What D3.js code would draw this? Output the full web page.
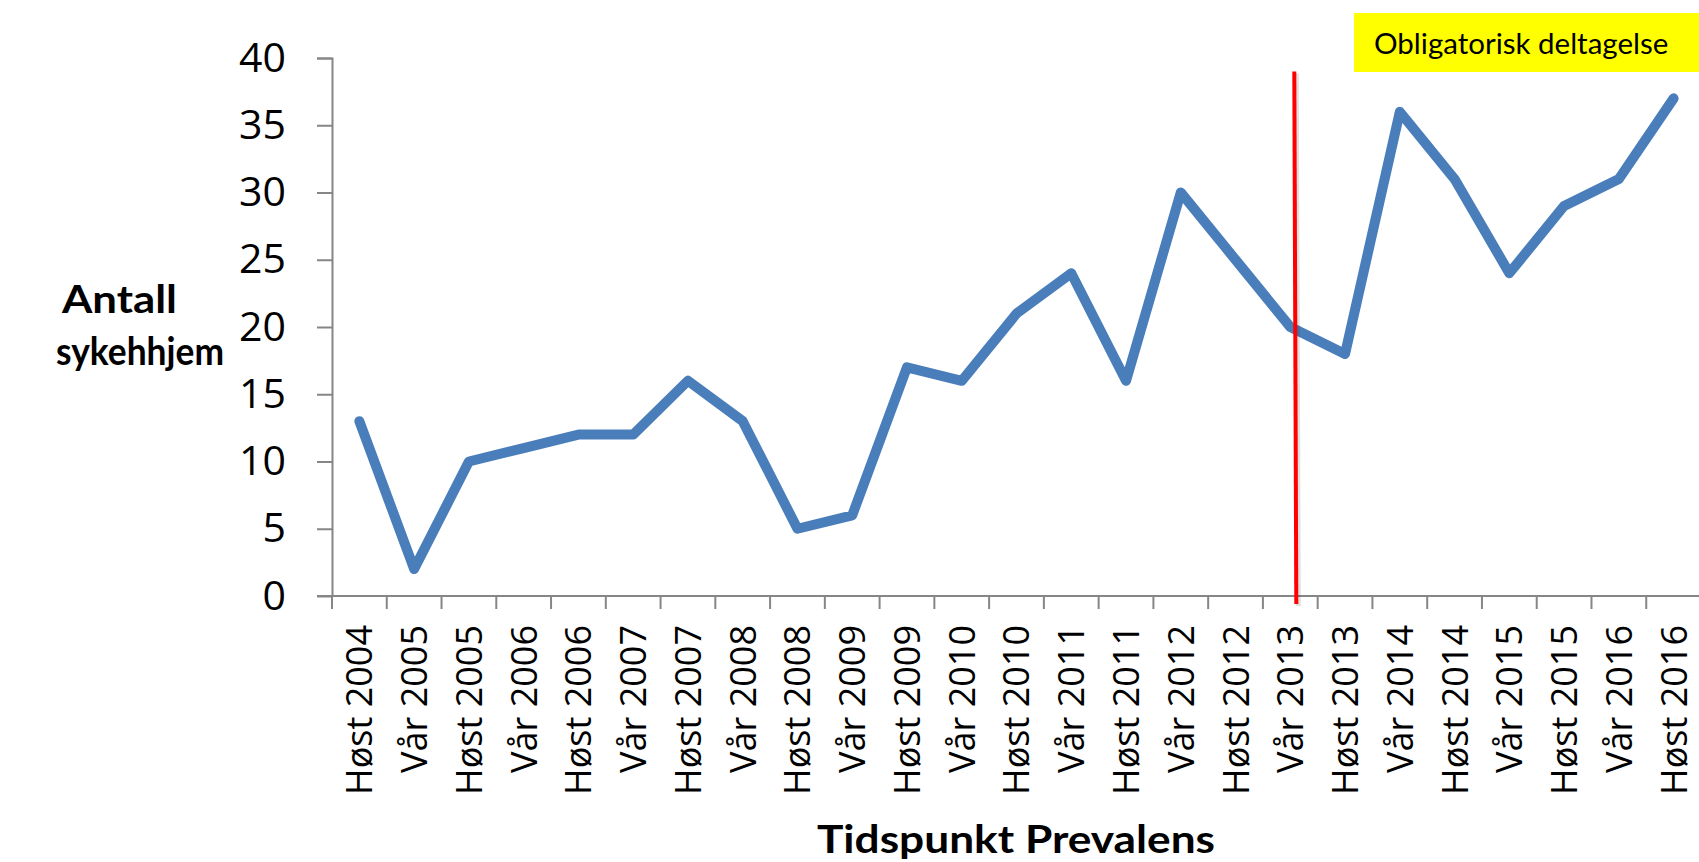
<!DOCTYPE html>
<html>
<head>
<meta charset="utf-8">
<script src="https://cdn.jsdelivr.net/npm/d3@7"></script>
<style>
  html, body { margin: 0; padding: 0; background: #fff; overflow: hidden; }
  svg { display: block; }
</style>
</head>
<body>
<div id="chart"></div>
<script>
// Categories along the x axis (survey rounds)
const periods = [
    "Høst 2004", "Vår 2005", "Høst 2005", "Vår 2006", "Høst 2006",
    "Vår 2007", "Høst 2007", "Vår 2008", "Høst 2008", "Vår 2009",
    "Høst 2009", "Vår 2010", "Høst 2010", "Vår 2011", "Høst 2011",
    "Vår 2012", "Høst 2012", "Vår 2013", "Høst 2013", "Vår 2014",
    "Høst 2014", "Vår 2015", "Høst 2015", "Vår 2016", "Høst 2016"
];

// Number of nursing homes for each period
const antall = [13, 2, 10, 11, 12, 12, 16, 13, 5, 6, 17, 16, 21, 24, 16, 30, 25, 20, 18, 36, 31, 24, 29, 31, 37];

// Tick values for the y axis
const yTicks = [0, 5, 10, 15, 20, 25, 30, 35, 40];

// Where mandatory participation starts and the note text
const markerPeriod = "Vår 2013";
const noteText = "Obligatorisk deltagelse";

const width = 1699;
const height = 862;
const margin = { top: 58, right: -2, bottom: 266, left: 332 };
const innerWidth = width - margin.left - margin.right;
const innerHeight = height - margin.top - margin.bottom;

const svg = d3.select("#chart").append("svg")
    .attr("width", width)
    .attr("height", height)
    .style("font-family", "'Open Sans', sans-serif");

const g = svg.append("g")
    .attr("transform", `translate(${margin.left},${margin.top})`);

// Scales
const x = d3.scaleBand()
    .domain(periods)
    .range([0, innerWidth])
    .padding(0);

const y = d3.scaleLinear()
    .domain([0, 40])
    .range([innerHeight, 0]);

const axisColor = "#868686";

// Y axis
const yAxis = g.append("g")
    .call(d3.axisLeft(y).tickValues(yTicks).tickSize(15).tickPadding(31));
yAxis.select(".domain").attr("stroke", axisColor).attr("stroke-width", 2)
    .attr("d", `M-15,0.5H0.5V${innerHeight}`);
yAxis.selectAll(".tick line").attr("stroke", axisColor).attr("stroke-width", 2);
yAxis.selectAll(".tick text")
    .attr("fill", "#000")
    .style("font-size", "41px")
    .style("font-family", "'Open Sans', sans-serif");

// X axis (labels at band centres, ticks at band edges)
const xAxis = g.append("g")
    .attr("transform", `translate(0,${innerHeight})`)
    .call(d3.axisBottom(x).tickSize(0));
xAxis.select(".domain").attr("stroke", axisColor).attr("stroke-width", 2)
    .attr("d", `M-15,0H${innerWidth}`);
xAxis.selectAll(".tick text")
    .attr("fill", "#000")
    .attr("text-anchor", "end")
    .attr("transform", "translate(0,29) rotate(-90)")
    .attr("x", 0)
    .attr("y", 0)
    .attr("dy", "0.36em")
    .style("font-size", "36px")
    .style("font-family", "'Open Sans', sans-serif");

xAxis.selectAll(".edge-tick")
    .data(periods)
    .enter()
    .append("line")
    .attr("class", "edge-tick")
    .attr("x1", d => x(d))
    .attr("x2", d => x(d))
    .attr("y1", 0)
    .attr("y2", 13)
    .attr("stroke", axisColor)
    .attr("stroke-width", 2);

// The data line
const line = d3.line()
    .x((d, i) => x(periods[i]) + x.bandwidth() / 2)
    .y(d => y(d));

g.append("path")
    .datum(antall)
    .attr("fill", "none")
    .attr("stroke", "#4a7ebb")
    .attr("stroke-width", 10)
    .attr("stroke-linejoin", "round")
    .attr("stroke-linecap", "round")
    .attr("d", line);

// Red marker line where mandatory participation starts
const mx = x(markerPeriod) + x.bandwidth() / 2 + 4;
g.append("line")
    .attr("x1", mx + 2).attr("x2", mx + 4)
    .attr("y1", y(39) + 2).attr("y2", y(0) + 10)
    .attr("stroke", "#000")
    .attr("stroke-opacity", 0.12)
    .attr("stroke-width", 5);
g.append("line")
    .attr("x1", mx).attr("x2", mx + 2)
    .attr("y1", y(39)).attr("y2", y(0) + 8)
    .attr("stroke", "#ff0000")
    .attr("stroke-width", 4);

// Yellow note box
svg.append("rect")
    .attr("x", 1354)
    .attr("y", 13)
    .attr("width", 360)
    .attr("height", 59)
    .attr("fill", "#ffff00");
svg.append("text")
    .attr("x", 1374)
    .attr("y", 54)
    .attr("fill", "#000")
    .style("font-family", "Lato, 'Open Sans', sans-serif")
    .style("font-size", "29.5px")
    .text(noteText);

// Axis titles (widths matched to the original)
const titleFont = "Lato, 'Open Sans', sans-serif";
function addTitle(text, cx, baseline, len) {
    svg.append("text")
        .attr("x", cx - len / 2).attr("y", baseline)
        .attr("textLength", len)
        .attr("lengthAdjust", "spacingAndGlyphs")
        .style("font-family", titleFont)
        .style("font-weight", "bold")
        .style("font-size", "39px")
        .text(text);
}
addTitle("Antall", 119.5, 313, 115);
addTitle("sykehhjem", 140, 365, 168);
addTitle("Tidspunkt Prevalens", 1016, 853, 398);
</script>
</body>
</html>
